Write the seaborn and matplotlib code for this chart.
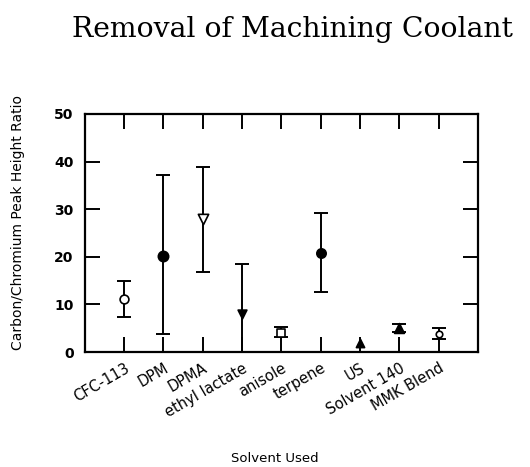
import numpy as np
import pandas as pd
import matplotlib
matplotlib.use("Agg")
import matplotlib.pyplot as plt
import seaborn as sns

solvents = ["CFC-113", "DPM", "DPMA", "ethyl lactate", "anisole",
            "terpene", "US", "Solvent 140", "MMK Blend"]
means = [11.1, 20.2, 28.0, 8.0, 4.1, 20.8, 1.9, 5.1, 3.9]
upper = [15.0, 37.1, 38.9, 18.5, 5.3, 29.3, 1.9, 5.9, 5.0]
lower = [7.3, 3.7, 16.9, 0.0, 3.2, 12.6, 1.9, 4.3, 2.8]
markers = ["o", "o", "v", "v", "s", "o", "^", "^", "o"]
filled = [False, True, False, True, False, True, True, True, False]
msizes = [40, 55, 55, 40, 28, 45, 35, 50, 22]

sns.set_style("ticks")
plt.rcParams["font.family"] = ["DejaVu Sans"]
plt.rcParams["text.color"] = "black"

fig = plt.figure(figsize=(5.3, 4.67), dpi=100)
ax = fig.add_axes([0.160, 0.246, 0.742, 0.510])

df = pd.DataFrame({"solvent": solvents, "value": means,
                   "upper": upper, "lower": lower})
df["x"] = np.arange(len(solvents))

eb = df[df["upper"] > df["lower"]]
ax.errorbar(eb["x"], eb["value"],
            yerr=[eb["value"] - eb["lower"], eb["upper"] - eb["value"]],
            fmt="none", ecolor="black", elinewidth=1.4, capsize=5,
            capthick=1.4, zorder=2)

for i, s in enumerate(solvents):
    sub = df[df["solvent"] == s]
    sns.scatterplot(data=sub, x="x", y="value", ax=ax,
                    marker=markers[i], s=msizes[i],
                    facecolor="black" if filled[i] else "white",
                    edgecolor="black", linewidth=1.2, zorder=3, legend=False)

ax.set_xlim(-1, len(solvents))
ax.set_ylim(0, 50)
ax.set_xticks(df["x"])
ax.set_xticklabels(solvents, rotation=30, ha="right", rotation_mode="anchor",
                   fontsize=10.5, color="black")
ax.set_yticks([0, 10, 20, 30, 40, 50])
ax.set_yticklabels(["0", "10", "20", "30", "40", "50"], fontsize=10,
                   fontweight="bold", color="black")
ax.tick_params(axis="both", direction="in", length=11, width=1.4,
               top=True, right=True, colors="black", pad=6)
ax.tick_params(axis="y", pad=8)
for sp in ax.spines.values():
    sp.set_visible(True)
    sp.set_linewidth(1.6)
    sp.set_color("black")

ax.set_xlabel("Solvent Used", fontsize=9.5, color="black", va="center")
ax.xaxis.set_label_coords(0.483, -0.445)
ax.set_ylabel("Carbon/Chromium Peak Height Ratio", fontsize=10,
              color="black", va="center")
ax.yaxis.set_label_coords(-0.17, 0.546)

fig.text(0.551, 0.936, "Removal of Machining Coolant", ha="center",
         va="center", fontsize=20.3, family="DejaVu Serif", color="black")

fig.savefig("out.png", dpi=100, facecolor="white")
